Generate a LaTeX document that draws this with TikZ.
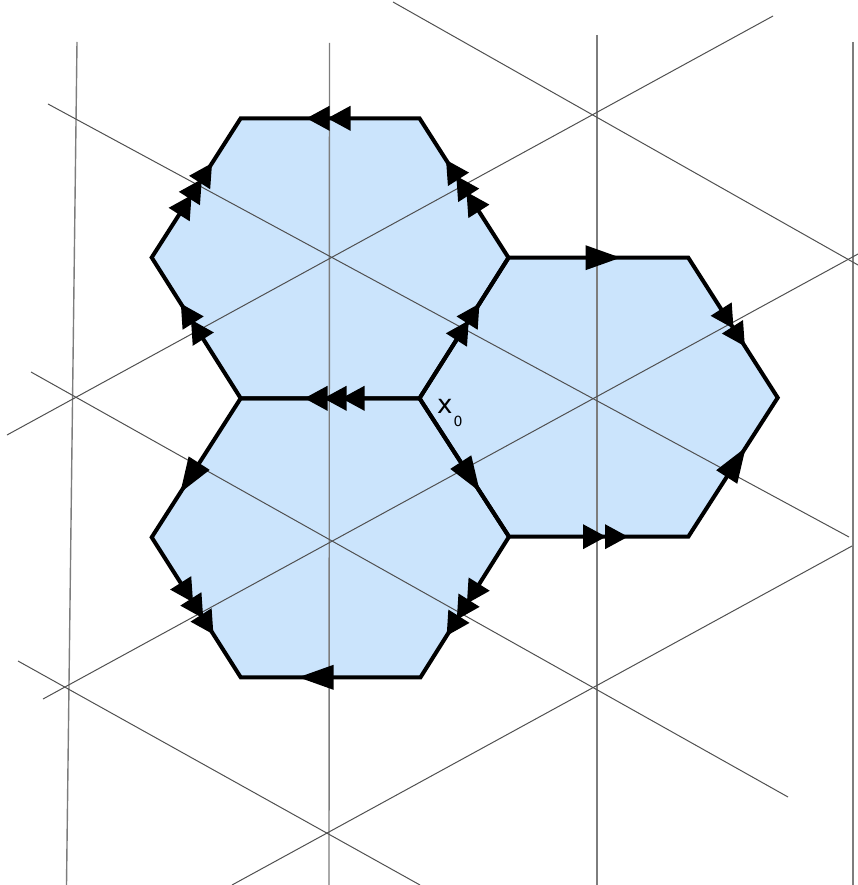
\documentclass[tikz,border=0pt]{standalone}
\usepackage{fontspec}
\setmainfont{DejaVu Sans}
\usetikzlibrary{decorations.markings}
\definecolor{hexfill}{RGB}{203,228,252}
\definecolor{gridA}{RGB}{125,125,125}
\definecolor{gridB}{RGB}{80,80,80}
\newcommand\ahead[1]{\fill[black] (0pt,0pt) -- (-#1pt,12.5pt) -- (-#1pt,-12.5pt) -- cycle;}
\tikzset{
  hexcell/.style={fill=hexfill, draw=none},
  hexedge/.style={draw=black, line width=4pt},
  vgrid/.style={draw=gridA, line width=1.4pt},
  dgrid/.style={draw=gridB, line width=1pt},
  oneA/.style={postaction={decorate}, decoration={markings, mark=at position #1pt with {\ahead{35}}}},
  twoA/.style 2 args={postaction={decorate}, decoration={markings,
      mark=at position #1pt with {\ahead{23}},
      mark=at position #2pt with {\ahead{23}}}},
  threeA/.style n args={3}{postaction={decorate}, decoration={markings,
      mark=at position #1pt with {\ahead{23}},
      mark=at position #2pt with {\ahead{23}},
      mark=at position #3pt with {\ahead{23}}}},
  lbl/.style={anchor=base west, inner sep=0pt, font=\fontsize{26}{30}\selectfont}
}
\begin{document}
\begin{tikzpicture}[x=1pt,y=-1pt]
\useasboundingbox (0,0) rectangle (858,885);
% vertices
\coordinate (A0) at (508.5,257.7);
\coordinate (A1) at (419.5,118.3);
\coordinate (A2) at (240.7,118.3);
\coordinate (A3) at (151.7,257.5);
\coordinate (A4) at (240.7,398.3);
\coordinate (A5) at (419.5,398.3);
\coordinate (B3) at (151.7,537.3);
\coordinate (B4) at (240.7,677.3);
\coordinate (B5) at (420.5,677.3);
\coordinate (B0) at (509,536.7);
\coordinate (C5) at (688.3,536.7);
\coordinate (C0) at (777.7,397.7);
\coordinate (C1) at (688.3,257.7);
% fills
\path[hexcell] (A0)--(A1)--(A2)--(A3)--(A4)--(A5)--cycle;
\path[hexcell] (A5)--(A4)--(B3)--(B4)--(B5)--(B0)--cycle;
\path[hexcell] (C0)--(C1)--(A0)--(A5)--(B0)--(C5)--cycle;
% grid lines
\coordinate (v1a) at (77,42);   \coordinate (v1b) at (66.5,885);
\coordinate (v2a) at (329.5,43); \coordinate (v2b) at (329,885);
\coordinate (v3a) at (597,35);  \coordinate (v3b) at (597,885);
\coordinate (v4a) at (853,42);  \coordinate (v4b) at (853,885);
\draw[vgrid] (v1a) -- (v1b);
\draw[vgrid] (v2a) -- (v2b);
\draw[vgrid] (v3a) -- (v3b);
\draw[vgrid] (v4a) -- (v4b);
\coordinate (d1a) at (48,104);  \coordinate (d1b) at (849,537);
\coordinate (d2a) at (393,2);   \coordinate (d2b) at (858,265);
\coordinate (d3a) at (31,372);  \coordinate (d3b) at (788,797);
\coordinate (d4a) at (18,661);  \coordinate (d4b) at (420,885);
\coordinate (e1a) at (7,435);   \coordinate (e1b) at (773,16);
\coordinate (e2a) at (43,699);  \coordinate (e2b) at (858,254);
\coordinate (e3a) at (232,885); \coordinate (e3b) at (852,546);
\draw[dgrid] (d1a) -- (d1b);
\draw[dgrid] (d2a) -- (d2b);
\draw[dgrid] (d3a) -- (d3b);
\draw[dgrid] (d4a) -- (d4b);
\draw[dgrid] (e1a) -- (e1b);
\draw[dgrid] (e2a) -- (e2b);
\draw[dgrid] (e3a) -- (e3b);
% outlines
\draw[hexedge] (A0)--(A1)--(A2)--(A3)--(A4)--(A5)--cycle;
\draw[hexedge] (A5)--(A4)--(B3)--(B4)--(B5)--(B0)--cycle;
\draw[hexedge] (C0)--(C1)--(A0)--(A5)--(B0)--(C5)--cycle;
% edge arrows
\path[twoA={92}{113}] (A1) -- (A2);
\path[threeA={74}{93}{112}] (A3) -- (A2);
\path[twoA={93}{112}] (A4) -- (A3);
\path[threeA={78}{96}{115}] (A5) -- (A4);
\path[twoA={92}{112}] (A5) -- (A0);
\path[threeA={78}{97}{116}] (A0) -- (A1);
\path[oneA={112}] (A0) -- (C1);
\path[twoA={84}{105}] (C1) -- (C0);
\path[oneA={106}] (C5) -- (C0);
\path[twoA={97}{119}] (B0) -- (C5);
\path[oneA={111}] (A5) -- (B0);
\path[oneA={112}] (A4) -- (B3);
\path[threeA={77}{96}{115}] (B3) -- (B4);
\path[oneA={122}] (B5) -- (B4);
\path[threeA={79}{98}{117}] (B0) -- (B5);
% label
\node[lbl] (x0) at (437,413) {x\kern1pt\raisebox{-13pt}{\fontsize{14}{16}\selectfont 0}};
\end{tikzpicture}
\end{document}
